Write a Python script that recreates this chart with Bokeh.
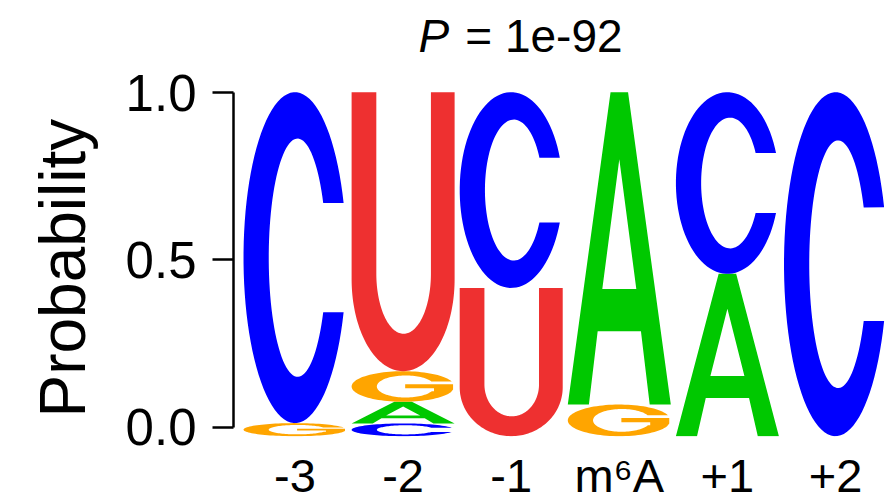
import numpy as np
from bokeh.plotting import figure
from bokeh.models import (Range1d, LinearAxis, FixedTicker, PrintfTickFormatter,
                          ColumnDataSource, Title)
from bokeh.core.properties import value
from bokeh.embed import file_html
from bokeh.resources import INLINE

# ---- motif data: per-position base probabilities ----
positions = ["-3", "-2", "-1", "m\u2076A", "+1", "+2"]
prob_A = [0.000, 0.063, 0.000, 0.908, 0.472, 0.000]
prob_C = [0.962, 0.037, 0.569, 0.000, 0.528, 1.000]
prob_G = [0.038, 0.089, 0.000, 0.092, 0.000, 0.000]
prob_U = [0.000, 0.811, 0.431, 0.000, 0.000, 0.000]
y_ticks = [0.0, 0.5, 1.0]
y_label = "Probability"
title_p = "P"
title_rest = "= 1e-92"

colors = {"A": "#00C800", "C": "#0000FF", "G": "#FFA500", "U": "#EE3030"}
FONT = "Liberation Sans"


# ---- letter outlines in a unit box (x, y in [0, 1]) ----
def arc(cx, cy, rx, ry, a0, a1, n=90):
    t = np.radians(np.linspace(a0, a1, n))
    return list(cx + rx * np.cos(t)), list(cy + ry * np.sin(t))


def shape_C():
    ox, oy = arc(0.5, 0.5, 0.5, 0.5, 19.3, 340.7)
    ix, iy = arc(0.525, 0.5, 0.28, 0.36, 332.7, 27.3)
    return [(ox + ix, oy + iy)]


def shape_G():
    ox, oy = arc(0.5, 0.5, 0.5, 0.5, 19.3, 338)
    xs = ox + [0.985, 0.985, 0.52, 0.52, 0.80, 0.80]
    ys = oy + [0.40, 0.575, 0.575, 0.44, 0.44, 0.345]
    ix, iy = arc(0.525, 0.5, 0.28, 0.36, 335, 27.3)
    return [(xs + ix, ys + iy)]


def shape_U():
    bx, by = arc(0.5, 0.33, 0.5, 0.33, 180, 360)
    ix, iy = arc(0.505, 0.35, 0.265, 0.216, 360, 180)
    xs = [0.0] + bx + [1.0, 0.77] + ix + [0.24]
    ys = [1.0] + by + [1.0, 1.0] + iy + [1.0]
    return [(xs, ys)]


def shape_A():
    outer = ([0.0, 0.415, 0.585, 1.0, 0.795, 0.71, 0.29, 0.205],
             [0.0, 1.0, 1.0, 0.0, 0.0, 0.235, 0.235, 0.0])
    hole = ([0.335, 0.5, 0.665], [0.37, 0.785, 0.37])
    return [outer, hole]


shapes = {"A": shape_A(), "C": shape_C(), "G": shape_G(), "U": shape_U()}
probs = {"A": prob_A, "C": prob_C, "G": prob_G, "U": prob_U}

# ---- stack letters per position, smallest at the bottom ----
LETTER_W = 0.953
xs, ys, fills, names = [], [], [], []
for i in range(len(positions)):
    cx = i + 1
    col = sorted(((probs[b][i], b) for b in "ACGU" if probs[b][i] > 0))
    base = 0.0
    for h, b in col:
        rings_x, rings_y = [], []
        for rx, ry in shapes[b]:
            rings_x.append([cx - LETTER_W / 2 + u * LETTER_W for u in rx])
            rings_y.append([base + v * h for v in ry])
        xs.append([rings_x])
        ys.append([rings_y])
        fills.append(colors[b])
        names.append(b)
        base += h

src = ColumnDataSource(dict(xs=xs, ys=ys, fill=fills, base=names))

p = figure(width=887, height=504,
           x_range=Range1d(0.431, 6.481),
           y_range=Range1d(-0.0009, 1.2666),
           output_backend="svg", toolbar_location=None,
           y_axis_location=None, x_axis_location="below",
           min_border_left=233, min_border_right=0,
           min_border_top=0, min_border_bottom=68)
p.outline_line_color = None
p.xgrid.visible = False
p.ygrid.visible = False
p.background_fill_color = "white"

p.multi_polygons(xs="xs", ys="ys", source=src, fill_color="fill",
                 line_color=None)

# probability axis (letters sit on a marginally taller scale)
p.extra_y_ranges = {"prob": Range1d(-0.0278, 1.2760)}
yax = LinearAxis(y_range_name="prob", bounds=(0, 1),
                 ticker=FixedTicker(ticks=y_ticks),
                 formatter=PrintfTickFormatter(format="%.1f"))
yax.major_label_text_font = FONT
yax.major_label_text_font_size = "51px"
yax.major_label_text_color = "black"
yax.major_label_standoff = 16
yax.axis_line_width = 2.5
yax.axis_line_color = "black"
yax.major_tick_line_width = 2.5
yax.major_tick_line_color = "black"
yax.major_tick_out = 21
yax.major_tick_in = 0
yax.minor_tick_line_color = None
p.add_layout(yax, "left")

# vertical axis title, starting just above the bottom of the 0..1 span
p.add_layout(Title(text=y_label, align="left", offset=19, standoff=48,
                   text_font=FONT, text_font_size="64px",
                   text_font_style="normal", text_color="black"), "left")

xax = p.xaxis[0]
xax.ticker = FixedTicker(ticks=list(range(1, len(positions) + 1)))
xax.major_label_overrides = {i + 1: lab for i, lab in enumerate(positions)}
xax.axis_line_color = None
xax.major_tick_line_color = None
xax.minor_tick_line_color = None
xax.major_tick_out = 0
xax.major_tick_in = 0
xax.major_label_standoff = 12
xax.major_label_text_font = FONT
xax.major_label_text_font_size = "47px"
xax.major_label_text_color = "black"

# title: italic P followed by the value
p.text(x=[2.142], y=[1.162], text=[title_p], text_font=value(FONT),
       text_font_size="46px", text_font_style="italic",
       text_baseline="alphabetic", text_align="left", text_color="black")
p.text(x=[2.575], y=[1.162], text=[title_rest], text_font=value(FONT),
       text_font_size="46px", text_baseline="alphabetic", text_align="left",
       text_color="black")

open("out.html", "w").write(file_html(p, INLINE))
